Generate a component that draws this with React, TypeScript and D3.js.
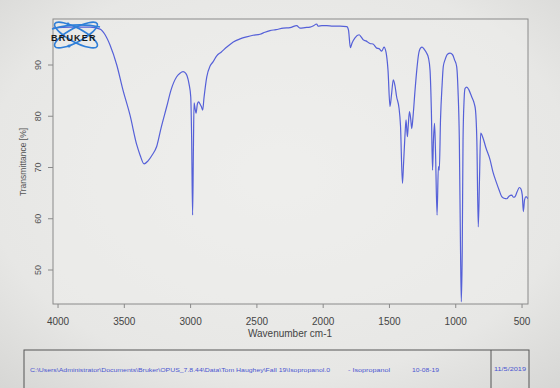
import React from "react";
import * as d3 from "d3";

const wavenumber = [
  4038, 3909, 3759, 3683, 3645, 3608, 3557, 3510, 3457, 3406, 3381, 3351, 3321, 3291, 3256, 3223, 3180,
  3148, 3105, 3080, 3057, 3038, 3027, 3012, 2999, 2992, 2985, 2979, 2974, 2967, 2959, 2949, 2939, 2929,
  2919, 2909, 2899, 2878, 2853, 2831, 2803, 2770, 2727, 2678, 2627, 2577, 2529, 2476, 2439, 2401, 2356,
  2301, 2250, 2200, 2175, 2137, 2099, 2077, 2049, 2039, 2009, 1973, 1926, 1873, 1822, 1809, 1795, 1782,
  1760, 1729, 1714, 1697, 1677, 1647, 1624, 1596, 1579, 1558, 1541, 1526, 1511, 1496, 1485, 1471, 1458,
  1446, 1428, 1417, 1402, 1394, 1383, 1375, 1365, 1358, 1349, 1339, 1332, 1323, 1307, 1294, 1281, 1266,
  1254, 1239, 1219, 1206, 1194, 1184, 1175, 1168, 1160, 1153, 1141, 1131, 1124, 1115, 1103, 1094, 1081,
  1062, 1043, 1024, 1009, 993, 983, 973, 964, 958, 951, 945, 937, 930, 917, 900, 880, 862, 851, 841, 830,
  821, 812, 795, 772, 741, 719, 691, 673, 653, 636, 615, 598, 578, 564, 553, 538, 520, 508, 498, 490, 481,
  470, 455,
];
const transmittance = [
  97.2, 97.4, 97.4, 97.0, 95.9, 93.9, 90.0, 85.1, 80.2, 74.4, 72.4, 70.7, 71.3, 72.4, 74.1, 77.7, 81.9,
  85.1, 87.7, 88.4, 88.7, 88.4, 87.9, 86.3, 83.8, 75.4, 60.7, 73.4, 82.6, 81.6, 80.6, 82.4, 82.8, 82.4,
  81.9, 81.2, 83.6, 87.7, 89.8, 90.6, 91.8, 92.5, 93.5, 94.5, 95.1, 95.5, 95.8, 96.0, 96.4, 96.7, 96.9,
  97.2, 97.3, 97.7, 97.2, 97.3, 97.4, 97.6, 98.0, 97.6, 97.7, 97.7, 97.6, 97.6, 97.5, 96.8, 93.4, 94.3,
  95.3, 95.9, 95.5, 94.9, 94.7, 94.2, 94.1, 93.3, 93.2, 92.7, 93.5, 92.5, 89.0, 81.9, 84.1, 87.1, 85.9,
  83.8, 81.6, 78.3, 66.9, 70.6, 76.3, 79.3, 76.0, 78.3, 80.9, 79.3, 77.6, 79.7, 85.1, 89.0, 92.0, 93.3,
  93.5, 93.1, 92.3, 91.4, 89.0, 81.2, 69.5, 75.4, 78.6, 73.4, 60.7, 70.2, 69.5, 79.3, 86.1, 89.7, 91.0,
  92.1, 92.3, 92.0, 91.0, 89.7, 85.1, 75.4, 53.9, 43.8, 53.9, 75.4, 83.2, 85.4, 85.7, 85.1, 83.8, 82.6, 81.2, 75.4, 58.4,
  67.6, 76.7, 75.8, 73.8, 71.5, 69.1, 66.9, 65.6, 64.3, 64.0, 63.9, 64.4, 64.6, 64.2, 64.3, 65.2, 66.1, 65.8, 64.6, 61.4, 63.7,
  64.3, 63.9,
];
const xTicks = [4000, 3500, 3000, 2500, 2000, 1500, 1000, 500];
const yTicks = [50, 60, 70, 80, 90];
const footerPath =
  "C:\\Users\\Administrator\\Documents\\Bruker\\OPUS_7.8.44\\Data\\Tom Haughey\\Fall 19\\Isopropanol.0";
const footerName = "- Isopropanol";
const footerDate = "10-08-19";
const footerPrint = "11/5/2019";

const W = 560;
const H = 388;
const plot = { left: 53, right: 528, top: 19, bottom: 304 };

export default function App() {
  const x = d3.scaleLinear().domain([4038, 455]).range([plot.left, plot.right]);
  const y = d3.scaleLinear().domain([50, 90]).range([270, 65]);
  const pts = wavenumber.map((w, i) => [w, transmittance[i]] as [number, number]);
  const line = d3
    .line<[number, number]>()
    .x((d) => x(d[0]))
    .y((d) => y(d[1]))
    .curve(d3.curveMonotoneX);
  const font = "Liberation Sans, Arial, sans-serif";
  return (
    <svg
      width={W}
      height={H}
      style={{ position: "absolute", left: 0, top: 0, display: "block" }}
      fontFamily={font}
    >
      <defs>
        <radialGradient id="bg" cx="50%" cy="45%" r="75%">
          <stop offset="0%" stopColor="#efefed" />
          <stop offset="70%" stopColor="#e7e7e5" />
          <stop offset="100%" stopColor="#d6d6d4" />
        </radialGradient>
        <clipPath id="clip">
          <rect x={plot.left} y={plot.top} width={plot.right - plot.left} height={plot.bottom - plot.top} />
        </clipPath>
      </defs>
      <rect x={0} y={0} width={W} height={H} fill="url(#bg)" />
      <rect
        x={plot.left}
        y={plot.top}
        width={plot.right - plot.left}
        height={plot.bottom - plot.top}
        fill="#ededeb"
        fillOpacity={0.5}
        stroke="#8a8a8a"
        strokeWidth={1}
      />
      {yTicks.map((t) => (
        <g key={t}>
          <line x1={plot.left - 5} x2={plot.left} y1={y(t)} y2={y(t)} stroke="#8a8a8a" />
          <text
            transform={`translate(${plot.left - 12},${y(t)}) rotate(-90)`}
            textAnchor="middle"
            fontSize={9}
            fill="#555"
          >
            {t}
          </text>
        </g>
      ))}
      {xTicks.map((t) => (
        <g key={t}>
          <line x1={x(t)} x2={x(t)} y1={plot.bottom} y2={plot.bottom + 4} stroke="#8a8a8a" />
          <text x={x(t)} y={plot.bottom + 21} textAnchor="middle" fontSize={10} fill="#444">
            {t}
          </text>
        </g>
      ))}
      <text x={290} y={337} textAnchor="middle" fontSize={10} fill="#444">
        Wavenumber cm-1
      </text>
      <text transform="translate(26,162) rotate(-90)" textAnchor="middle" fontSize={8.5} fill="#555">
        Transmittance [%]
      </text>
      <path d={line(pts) || ""} fill="none" stroke="#5560d8" strokeWidth={1.2} clipPath="url(#clip)" />
      <g>
        <g fill="none" stroke="#2f7fd8" strokeWidth={1.6}>
          <ellipse cx={76} cy={35} rx={24} ry={7} transform="rotate(-28 76 35)" />
          <ellipse cx={76} cy={35} rx={24} ry={7} transform="rotate(28 76 35)" />
          <path d="M52 29 Q76 22 100 27" />
        </g>
        <circle cx={69} cy={46} r={1.6} fill="#2f7fd8" />
        <circle cx={68} cy={24} r={1.4} fill="#2f7fd8" />
        <text x={51} y={41} fontSize={9} fontWeight="bold" fill="#1a1a1a" letterSpacing={1.2}>
          BRUKER
        </text>
      </g>
      <rect x={24} y={350} width={505} height={60} fill="none" stroke="#555" strokeWidth={1} />
      <line x1={491} x2={491} y1={350} y2={400} stroke="#555" />
      <g fontSize={5.6} fill="#4a55d0">
        <text x={30} y={372} textLength={300} lengthAdjust="spacingAndGlyphs">{footerPath}</text>
        <text x={348} y={372} textLength={42} lengthAdjust="spacingAndGlyphs">{footerName}</text>
        <text x={412} y={372} textLength={27} lengthAdjust="spacingAndGlyphs">{footerDate}</text>
        <text x={494} y={371} textLength={32} lengthAdjust="spacingAndGlyphs">{footerPrint}</text>
      </g>
    </svg>
  );
}
